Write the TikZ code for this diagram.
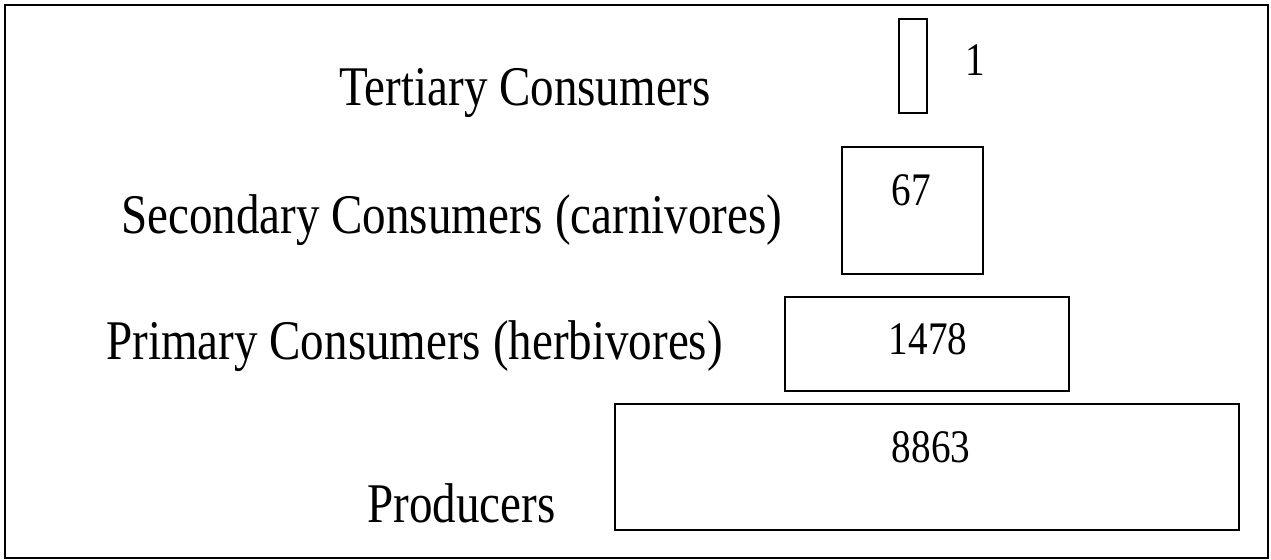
\documentclass[tikz,border=0pt]{standalone}
\usepackage{fontspec}
\usepackage{tikz}
\usetikzlibrary{positioning}
\newfontfamily\pyrfont[FakeStretch=0.84]{Liberation Serif}
\tikzset{
    bar/.style = {draw, line width=1pt, inner sep=0pt},
    level/.style = {inner sep=0pt, anchor=base west, font=\pyrfont\fontsize{42}{50}\selectfont},
    num/.style = {inner sep=0pt, anchor=base, font=\pyrfont\fontsize{35}{42}\selectfont},
}

\begin{document}
\begin{tikzpicture}[x=0.75pt,y=-0.75pt]
\useasboundingbox (0,0) rectangle (1271,560);
\node (frame) [bar, minimum width=947.25pt, minimum height=414.75pt] at (636.5,281.5) {};

\node (tert) [bar, minimum width=21pt, minimum height=70.5pt] at (913,66) {};
\node (sec)  [bar, minimum width=105.75pt, minimum height=95.25pt] at (912.5,210.5) {};
\node (prim) [bar, minimum width=213pt, minimum height=70.5pt] at (927,344) {};
\node (prod) [bar, minimum width=468pt, minimum height=94.5pt] at (927,467) {};

\node (tertnum) [num] at (975,76) {1};
\node (secnum)  [num] at (911,205) {67};
\node (primnum) [num] at (928,354) {1478};
\node (prodnum) [num] at (931,462) {8863};

\node (tertlab) [level] at (339,105) {Tertiary Consumers};
\node (seclab)  [level] at (121,233) {Secondary Consumers (carnivores)};
\node (primlab) [level] at (106,359) {Primary Consumers (herbivores)};
\node (prodlab) [level] at (367,522) {Producers};
\end{tikzpicture}
\end{document}
